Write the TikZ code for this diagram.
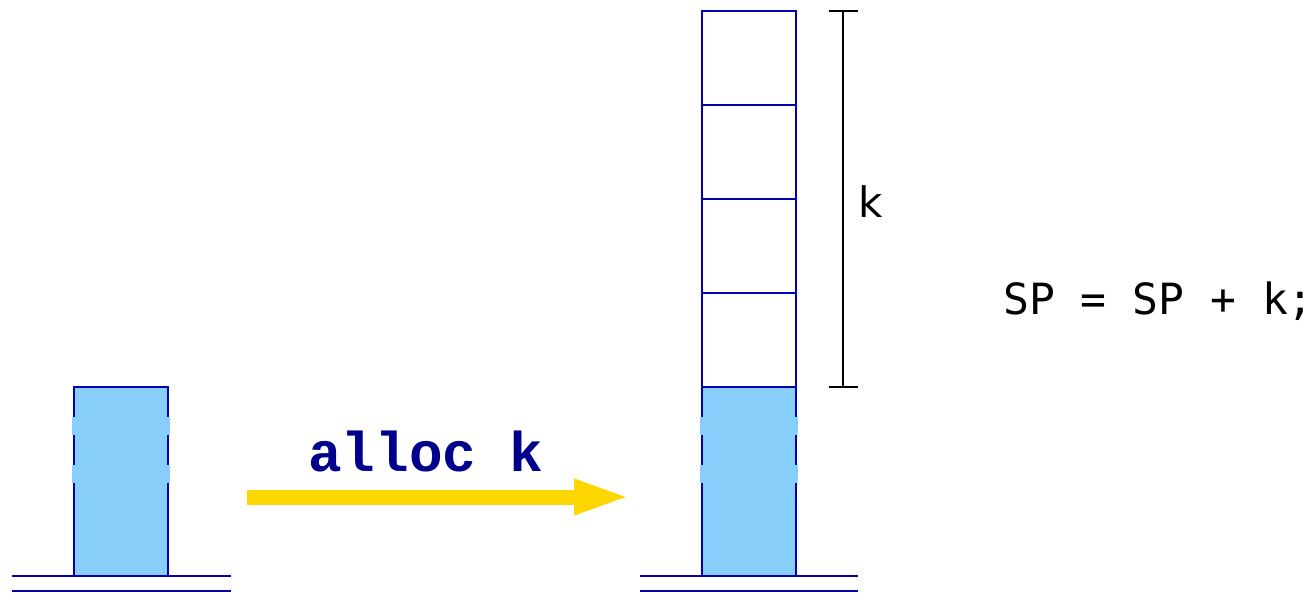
\documentclass[tikz,border=0pt]{standalone}
\usepackage{fontspec}
\newfontfamily\monofont{DejaVu Sans Mono}
\newfontfamily\boldmono{Liberation Mono}
\newfontfamily\sansfont{DejaVu Sans}
\usetikzlibrary{arrows.meta}
\definecolor{stackblue}{RGB}{0,0,175}
\definecolor{fillblue}{RGB}{135,206,250}
\definecolor{arrowgold}{RGB}{255,215,0}
\definecolor{navy}{RGB}{0,0,140}
\begin{document}
\begin{tikzpicture}[x=1pt,y=-1pt,
  cell/.style={draw=stackblue,line width=2.8pt},
  used/.style={cell,fill=fillblue},
  gap/.style={fill=fillblue,draw=none},
  ground/.style={draw=stackblue,line width=2.8pt},
  brace/.style={draw=black,line width=2.8pt}]
\useasboundingbox (0,0) rectangle (1312,592);
% left stack
\draw[used] (74,387) rectangle (168,576);
\fill[gap] (72,417) rectangle (170,435);
\fill[gap] (72,465) rectangle (170,483);
\draw[ground] (12,576) -- (231,576);
\draw[ground] (12,591) -- (231,591);
% right stack
\draw[used] (702,387) rectangle (796,576);
\fill[gap] (700,417) rectangle (798,435);
\fill[gap] (700,465) rectangle (798,483);
\foreach \t/\b in {11/105,105/199,199/293,293/387}
  \draw[cell] (702,\t) rectangle (796,\b);
\draw[ground] (640,576) -- (858,576);
\draw[ground] (640,591) -- (858,591);
% bracket
\coordinate (btop) at (843,11);
\coordinate (bbot) at (843,387);
\draw[brace] (btop) -- (bbot);
\draw[brace] (829,11) -- (858,11);
\draw[brace] (829,387) -- (858,387);
\node[anchor=west,inner sep=0pt,font=\sansfont\fontsize{42}{48}\selectfont] (klab) at (858,202) {k};
% arrow
\coordinate (astart) at (247,497);
\coordinate (aend) at (631,497);
\draw[draw=arrowgold,line width=15pt,-{Triangle[length=57pt,width=32pt]}] (astart) -- (aend);
\node[font=\boldmono\bfseries\fontsize{56}{62}\selectfont,text=navy,inner sep=0pt] (alloc) at (426,451) {alloc k};
% code
\node[anchor=west,inner sep=0pt,font=\monofont\fontsize{43}{50}\selectfont] (code) at (1003,301) {SP = SP + k;};
\end{tikzpicture}
\end{document}
